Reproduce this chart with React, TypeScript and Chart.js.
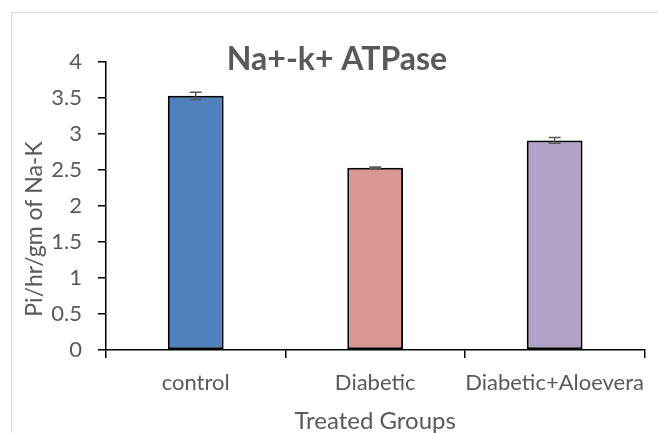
import React, { useEffect, useRef } from "react";
import { Chart, registerables } from "chart.js";

Chart.register(...registerables);

const categories = ["control", "Diabetic", "Diabetic+Aloevera"];
const values = [3.53, 2.53, 2.91];
const errors = [0.05, 0.01, 0.04];
const barColors = ["#4F81BD", "#D99694", "#B3A2C7"];
const yTicks = [0, 0.5, 1, 1.5, 2, 2.5, 3, 3.5, 4];
const chartTitle = "Na+-k+ ATPase";
const xTitle = "Treated Groups";
const yTitle = "Pi/hr/gm of Na-K";

const TEXT = "#595959";
const FONT = "Lato, 'Open Sans', sans-serif";

const errorBarPlugin = {
  id: "errorBars",
  afterDatasetsDraw(chart: any) {
    const ctx = chart.ctx;
    const meta = chart.getDatasetMeta(0);
    const y = chart.scales.y;
    ctx.save();
    ctx.strokeStyle = TEXT;
    ctx.lineWidth = 1.5;
    meta.data.forEach((bar: any, i: number) => {
      const v = values[i];
      const e = errors[i];
      const top = y.getPixelForValue(v + e);
      const bot = y.getPixelForValue(v - e);
      const x = bar.x;
      ctx.beginPath();
      ctx.moveTo(x, top);
      ctx.lineTo(x, bot);
      ctx.moveTo(x - 6, top);
      ctx.lineTo(x + 6, top);
      ctx.moveTo(x - 6, bot);
      ctx.lineTo(x + 6, bot);
      ctx.stroke();
    });
    ctx.restore();
  },
};

const textPlugin = {
  id: "texts",
  afterDraw(chart: any) {
    const ctx = chart.ctx;
    const area = chart.chartArea;
    ctx.save();
    ctx.fillStyle = TEXT;
    ctx.font = `bold 32px ${FONT}`;
    ctx.textAlign = "center";
    ctx.textBaseline = "alphabetic";
    ctx.fillText(chartTitle, 337, area.top + 8);
    ctx.font = `23px ${FONT}`;
    ctx.translate(35, (area.top + area.bottom) / 2 + 23);
    ctx.rotate(-Math.PI / 2);
    ctx.textBaseline = "middle";
    ctx.fillText(yTitle, 0, 0);
    ctx.restore();
  },
};

export default function App() {
  const ref = useRef<HTMLCanvasElement | null>(null);

  useEffect(() => {
    if (!ref.current) return;
    const chart = new Chart(ref.current, {
      type: "bar",
      data: {
        labels: categories,
        datasets: [
          {
            data: values,
            backgroundColor: barColors,
            borderColor: "#000000",
            borderWidth: 2,
            borderSkipped: false,
            categoryPercentage: 1,
            barPercentage: 0.311,
          },
        ],
      },
      options: {
        animation: false,
        responsive: false,
        maintainAspectRatio: false,
        layout: { padding: { left: 0, right: 12, top: 62, bottom: 0 } },
        plugins: {
          legend: { display: false },
          title: { display: false },
          tooltip: { enabled: false },
        },
        scales: {
          x: {
            afterFit: (s: any) => {
              s.height = 83;
            },
            grid: {
              display: true,
              drawOnChartArea: false,
              drawTicks: true,
              tickLength: 8,
              color: "#000000",
              lineWidth: 1.5,
              offset: true,
            },
            border: { display: true, color: "#000000", width: 1.5 },
            ticks: {
              color: TEXT,
              font: { family: FONT, size: 22 },
              padding: 12,
              autoSkip: false,
              maxRotation: 0,
              minRotation: 0,
            },
            title: {
              display: true,
              text: xTitle,
              color: TEXT,
              font: { family: FONT, size: 24, lineHeight: 1.0 },
              padding: { top: 0, bottom: 0 },
            },
          },
          y: {
            min: 0,
            max: 4,
            afterFit: (s: any) => {
              s.width = 106;
            },
            afterBuildTicks: (s: any) => {
              s.ticks = yTicks.map((v) => ({ value: v }));
            },
            grid: {
              display: true,
              drawOnChartArea: false,
              drawTicks: true,
              tickLength: 8,
              color: "#000000",
              lineWidth: 1.5,
            },
            border: { display: true, color: "#000000", width: 1.5 },
            ticks: {
              color: TEXT,
              font: { family: FONT, size: 22 },
              padding: 16,
              callback: (v: any) => String(v),
            },
          },
        },
      },
      plugins: [errorBarPlugin, textPlugin],
    });
    return () => chart.destroy();
  }, []);

  return (
    <div
      style={{
        position: "fixed",
        left: 0,
        top: 0,
        width: 658,
        height: 433,
        background: "#ffffff",
        overflow: "hidden",
      }}
    >
      <div
        style={{
          position: "absolute",
          left: 11,
          top: 12,
          width: 800,
          height: 600,
          borderLeft: "1px solid #d9d9d9",
          borderTop: "1px solid #d9d9d9",
        }}
      />
      <canvas
        ref={ref}
        width={658}
        height={433}
        style={{ position: "absolute", left: 0, top: 0, width: 658, height: 433 }}
      />
    </div>
  );
}
